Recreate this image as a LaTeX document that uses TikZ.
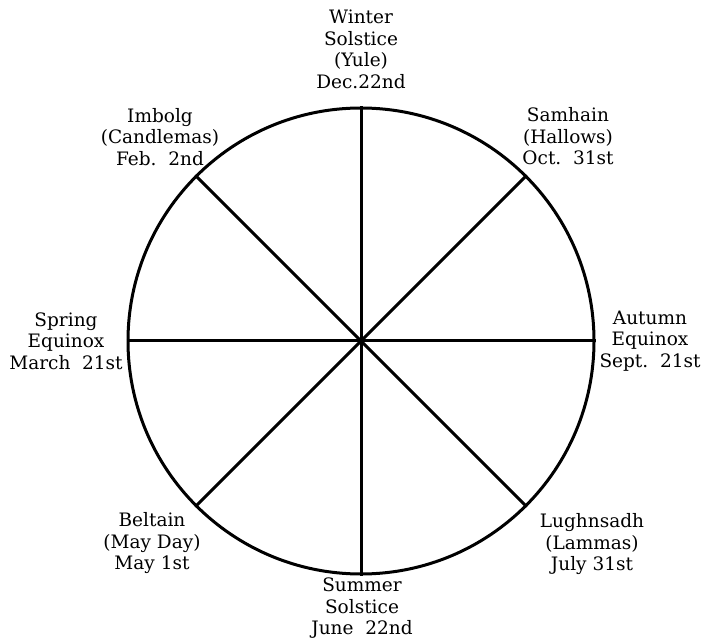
\documentclass[tikz,border=0pt]{standalone}
\usepackage{fontspec}
\setmainfont{DejaVu Serif}
\begin{document}
\begin{tikzpicture}[x=1pt,y=1pt,
  wheel/.style={circle,draw,line width=3pt,minimum size=466pt,inner sep=0pt},
  spoke/.style={line width=3pt},
  lbl/.style={align=center,inner sep=0pt,font=\fontsize{18.5}{21.5}\selectfont}]
\useasboundingbox (0,0) rectangle (701,643);
\node[wheel] (c) at (361,302) {};
\draw[spoke] (c.north) -- (c.south);
\draw[spoke] (c.west) -- (c.east);
\draw[spoke] (c.45) -- (c.225);
\draw[spoke] (c.135) -- (c.315);
\node[lbl] (winter) at (361,593.5) {Winter\\Solstice\\(Yule)\\Dec.22nd};
\node[lbl] (samhain) at (568,506.5) {Samhain\\(Hallows)\\Oct.~~31st};
\node[lbl] (imbolg) at (160,506) {Imbolg\\(Candlemas)\\Feb.~~2nd};
\node[lbl] (spring) at (66,302) {Spring\\Equinox\\March~~21st};
\node[lbl] (autumn) at (650,302) {Autumn\\Equinox\\Sept.~~21st};
\node[lbl] (beltain) at (152,99.5) {Beltain\\(May Day)\\May 1st};
\node[lbl] (lughnsadh) at (592,98.5) {Lughnsadh\\(Lammas)\\July 31st};
\node[lbl] (summer) at (362,34.5) {Summer\\Solstice\\June~~22nd};
\end{tikzpicture}
\end{document}
